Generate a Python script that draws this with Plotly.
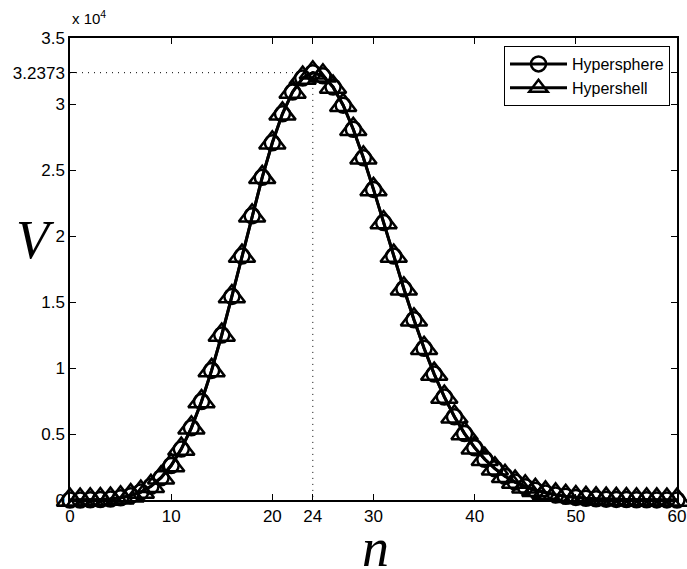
import plotly.graph_objects as go

n = list(range(0, 61))
hypersphere = [1, 4, 12.566, 33.510, 78.957, 168.44, 330.73, 604.77, 1039.0, 1688.8,
               2611.3, 3858.6, 5469.1, 7459.7, 9818.1, 12499, 15422, 18478, 21533, 24442,
               27059, 29252, 30912, 31965, 32373, 32135, 31291, 29912, 28087, 25923,
               23530, 21017, 18480, 16007, 13660, 11494, 9536.5, 7807.5, 6307.4, 5031.4,
               3963.1, 3084.2, 2371.5, 1802.6, 1354.6, 1006.8, 740.1, 538.4, 387.5, 276.2,
               194.8, 136.1, 94.15, 64.54, 43.82, 29.49, 19.67, 13.00, 8.52, 5.54, 3.57]
hypershell = list(hypersphere)

peak_n = 24
peak_v = 32373

x_ticks = [0, 10, 20, 24, 30, 40, 50, 60]
y_ticks = [0, 5000, 10000, 15000, 20000, 25000, 30000, 32373, 35000]
y_ticktext = ["0", "0.5", "1", "1.5", "2", "2.5", "3", "3.2373", "3.5"]

W, H = 687, 569
l, r, t, b = 70, 10, 38, 69
pw, ph = W - l - r, H - t - b


def px(xp):
    return (xp - l) / pw


def py(yp):
    return 1 - (yp - t) / ph


fig = go.Figure()
fig.add_trace(go.Scatter(x=[0, peak_n, peak_n], y=[peak_v, peak_v, 0], mode="lines",
                         line=dict(color="black", width=1, dash="1px,5px"),
                         showlegend=False, hoverinfo="skip"))
fig.add_trace(go.Scatter(x=n, y=hypersphere, mode="lines+markers", name="Hypersphere",
                         line=dict(color="black", width=3),
                         marker=dict(symbol="circle-open", size=15, color="black",
                                     line=dict(width=2.5, color="black")),
                         cliponaxis=False))
fig.add_trace(go.Scatter(x=n, y=hypershell, mode="lines+markers", name="Hypershell",
                         line=dict(color="black", width=3),
                         marker=dict(symbol="triangle-up-open", size=23, color="black",
                                     line=dict(width=2.5, color="black")),
                         cliponaxis=False))

axis_common = dict(showgrid=False, zeroline=False, showline=True, linecolor="black",
                   linewidth=1.5, mirror="ticks", ticks="inside", ticklen=6,
                   tickcolor="black", tickwidth=1, automargin=False,
                   tickfont=dict(family="Liberation Sans, Arial", size=17, color="black"))

fig.update_layout(
    width=W, height=H,
    margin=dict(l=l, r=r, t=t, b=b, autoexpand=False),
    paper_bgcolor="white", plot_bgcolor="white",
    xaxis=dict(range=[0, 60], tickvals=x_ticks, ticktext=[str(v) for v in x_ticks], **axis_common),
    yaxis=dict(range=[0, 35000], tickvals=y_ticks, ticktext=y_ticktext, **axis_common),
    legend=dict(x=px(670), y=py(46), xanchor="right", yanchor="top",
                bordercolor="black", borderwidth=1, bgcolor="white",
                font=dict(family="Liberation Sans, Arial", size=16, color="black"),
                tracegroupgap=0, itemwidth=57),
    showlegend=True,
    annotations=[
        dict(text="x 10<sup>4</sup>", x=px(70), y=py(6), xref="paper", yref="paper",
             showarrow=False, xanchor="left", yanchor="top",
             font=dict(family="Liberation Sans, Arial", size=15, color="black")),
        dict(text="<i>V</i>", x=px(35), y=py(240), xref="paper", yref="paper",
             showarrow=False, xanchor="center", yanchor="middle",
             font=dict(family="Liberation Serif, Times New Roman", size=54, color="black")),
        dict(text="<i>n</i>", x=px(375), y=py(548), xref="paper", yref="paper",
             showarrow=False, xanchor="center", yanchor="middle",
             font=dict(family="Liberation Serif, Times New Roman", size=54, color="black")),
    ],
)

fig.write_html("out.html")
